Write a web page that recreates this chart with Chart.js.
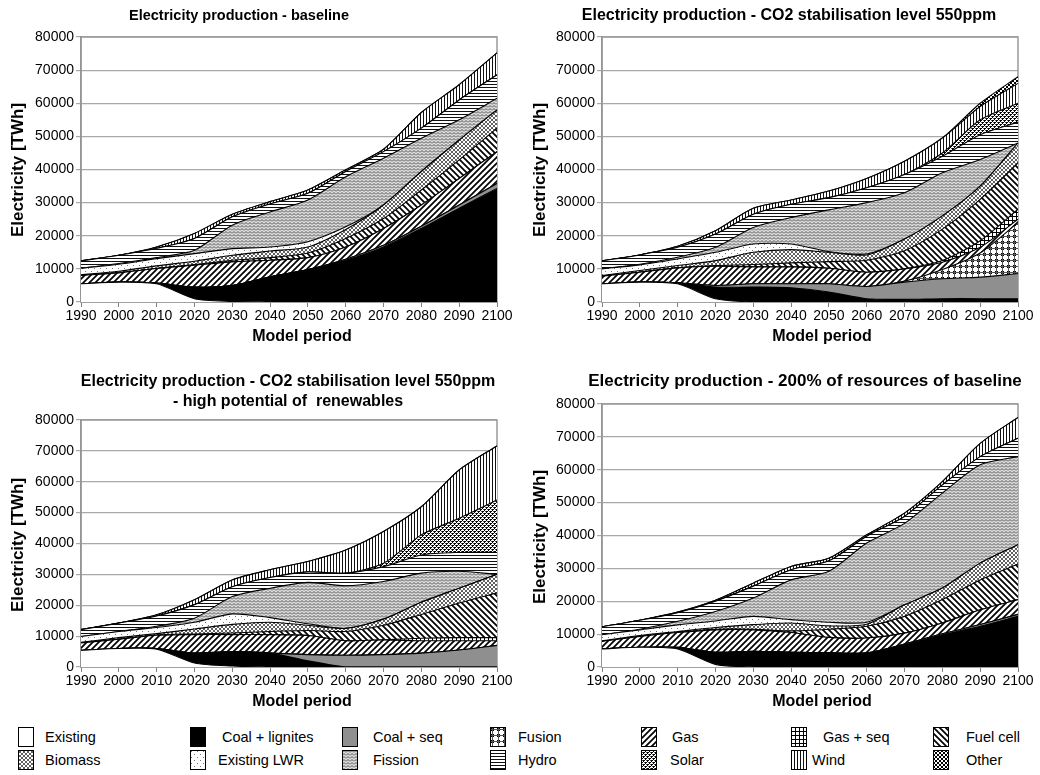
<!DOCTYPE html>
<html><head><meta charset="utf-8">
<script src="https://cdn.jsdelivr.net/npm/chart.js@4/dist/chart.umd.min.js"></script>
<style>
body{margin:0;background:#fff;width:1040px;height:775px;position:relative;overflow:hidden;font-family:"Liberation Sans",Arial,sans-serif;color:#000;}
canvas.ch{position:absolute;}
.t{position:absolute;font-weight:bold;white-space:pre;transform:translate(-50%,-50%);font-size:16px;}
.xt{position:absolute;font-weight:bold;white-space:nowrap;transform:translate(-50%,-50%);font-size:16px;}
.yt{position:absolute;font-weight:bold;white-space:nowrap;transform:translate(-50%,-50%) rotate(-90deg);font-size:17px;}
.lgs{position:absolute;}
.lgt{position:absolute;font-size:14.5px;transform:translateY(-50%);white-space:nowrap;}
</style></head><body>
<canvas class="ch" id="c1" width="520" height="330" style="left:0;top:0"></canvas>
<canvas class="ch" id="c2" width="520" height="330" style="left:520px;top:0"></canvas>
<canvas class="ch" id="c3" width="520" height="350" style="left:0;top:345px"></canvas>
<canvas class="ch" id="c4" width="520" height="350" style="left:520px;top:345px"></canvas>

<div class="t" style="left:239px;top:15px;font-size:14.5px">Electricity production - baseline</div>
<div class="t" style="left:789px;top:15px">Electricity production - CO2 stabilisation level 550ppm</div>
<div class="t" style="left:288px;top:381px">Electricity production - CO2 stabilisation level 550ppm</div>
<div class="t" style="left:288px;top:401px">- high potential of  renewables</div>
<div class="t" style="left:805px;top:381px;font-size:17px">Electricity production - 200% of resources of baseline</div>

<div class="yt" style="left:18px;top:170px">Electricity [TWh]</div>
<div class="yt" style="left:540px;top:170px">Electricity [TWh]</div>
<div class="yt" style="left:18px;top:545px">Electricity [TWh]</div>
<div class="yt" style="left:540px;top:537px">Electricity [TWh]</div>

<div class="xt" style="left:302px;top:336px">Model period</div>
<div class="xt" style="left:822px;top:336px">Model period</div>
<div class="xt" style="left:302px;top:701px">Model period</div>
<div class="xt" style="left:822px;top:701px">Model period</div>

<div id="legend"></div>

<script>
// ---------- DATA (TWh) ----------
const years = ['1990','2000','2010','2020','2030','2040','2050','2060','2070','2080','2090','2100'];
const seriesNames = ['Existing','Coal + lignites','Coal + seq','Fusion','Gas','Gas + seq','Fuel cell','Biomass','Existing LWR','Fission','Hydro','Solar','Wind','Other'];

// Chart 1: baseline
const baseExisting = [5500,6000,5500,1000,200,0,0,0,0,0,0,0];
const baseCoal     = [0,0,200,3500,4800,7600,9800,12600,16600,22200,28300,34300];
const baseCoalSeq  = [0,0,0,0,0,0,0,300,500,700,1000,1500];
const baseFusion   = [0,0,0,0,0,0,0,0,0,0,0,0];
const baseGas      = [2500,2800,4400,6600,7100,5000,3600,3700,5100,6400,8000,9600];
const baseGasSeq   = [0,0,0,0,0,0,0,0,0,0,0,0];
const baseFuelCell = [0,0,0,200,500,800,1400,2600,3000,4500,5600,7100];
const baseBiomass  = [200,500,800,1000,1500,2000,1800,2700,4100,5600,6000,5500];
const baseLwr      = [2000,2100,2200,2300,2000,1200,1600,800,0,0,0,0];
const baseFission  = [0,200,300,1000,7100,10600,12600,15100,14100,10000,6100,3500];
const baseHydro    = [2200,2500,2800,3600,2500,2400,2000,1600,2000,3100,6000,7100];
const baseSolar    = [0,0,0,0,0,0,0,0,0,0,0,0];
const baseWind     = [0,0,400,1500,800,700,1000,500,700,4700,4600,6600];
const baseOther    = [0,0,0,0,0,0,0,0,0,0,0,0];

// Chart 2: CO2 stabilisation 550ppm
const stabExisting = [5500,6000,5500,1000,0,0,0,0,0,0,0,0];
const stabCoal     = [0,0,300,3500,4500,4300,3000,1000,800,1000,1000,1000];
const stabCoalSeq  = [0,0,0,500,1000,1200,2500,3700,5200,6000,6500,7600];
const stabFusion   = [0,0,0,0,0,0,0,0,300,2800,7300,15400];
const stabGas      = [2300,3000,4500,5800,5100,5100,4700,4300,3700,2200,1700,1000];
const stabGasSeq   = [0,0,0,0,0,0,0,0,0,500,2000,3000];
const stabFuelCell = [0,0,0,200,700,1200,2000,3600,5500,9500,12500,14000];
const stabBiomass  = [200,500,700,1500,3700,4000,2800,1600,3500,4000,4000,6000];
const stabLwr      = [2000,1700,2000,2500,2500,1700,200,300,0,0,0,0];
const stabFission  = [0,200,500,1500,5000,8000,12600,15500,14000,13000,8000,0];
const stabHydro    = [2400,2800,3000,4000,4000,4000,3700,4500,5500,5000,7500,6300];
const stabSolar    = [0,0,0,0,0,0,0,0,0,1000,4500,5700];
const stabWind     = [0,0,300,1000,1800,1300,2000,2800,4000,4500,4000,6000];
const stabOther    = [0,0,0,0,0,0,0,0,0,0,1000,2000];

// Chart 3: CO2 550ppm - high potential of renewables
const renExisting = [5400,6000,5800,1300,300,0,0,0,0,0,0,0];
const renCoal     = [0,0,200,3200,4700,4500,2000,0,0,0,0,0];
const renCoalSeq  = [0,0,0,0,0,0,2000,3800,4000,4500,5500,7000];
const renFusion   = [0,0,0,0,0,0,0,0,0,0,0,0];
const renGas      = [2400,3000,4300,6000,5500,6000,6200,4700,4800,4000,3000,1500];
const renGasSeq   = [0,0,0,0,0,0,0,0,0,800,1000,1000];
const renFuelCell = [0,0,0,200,500,1000,1600,3000,4700,7700,11200,14500];
const renBiomass  = [200,500,500,1600,2800,3000,1700,1000,2000,4000,4800,6000];
const renLwr      = [1900,2000,2000,2200,3400,1500,500,0,0,0,0,0];
const renFission  = [0,0,400,1300,5600,9500,13400,13800,12200,9400,5500,0];
const renHydro    = [2200,2700,3300,4400,3200,3500,3400,4100,4800,5900,6100,7100];
const renSolar    = [0,0,0,0,0,0,0,0,1100,6500,11100,17000];
const renWind     = [0,0,400,1600,2200,2500,3400,7500,10300,9100,15600,17500];
const renOther    = [0,0,0,0,0,0,0,0,0,0,0,0];

// Chart 4: 200% of resources of baseline
const resExisting = [5500,6000,5500,800,0,0,0,0,0,0,0,0];
const resCoal     = [0,0,500,3700,4800,4500,4300,4300,6800,9800,12400,15400];
const resCoalSeq  = [0,0,0,0,0,0,0,0,200,300,500,600];
const resFusion   = [0,0,0,0,0,0,0,0,0,0,0,0];
const resGas      = [2300,3300,4500,6800,6500,6000,4700,4500,3300,3300,4500,4500];
const resGasSeq   = [0,0,0,0,0,0,0,0,0,0,0,0];
const resFuelCell = [0,0,0,200,200,500,2500,3600,5100,7100,9100,10800];
const resBiomass  = [200,300,300,500,1400,2400,1000,600,3500,3500,5100,5900];
const resLwr      = [1800,1700,2000,2000,2500,1000,1100,600,0,0,0,0];
const resFission  = [0,200,1100,2900,5600,12100,15500,24100,24800,28900,29900,26800];
const resHydro    = [2400,2700,2600,3100,3600,3100,3200,2100,2100,2500,2500,5600];
const resSolar    = [0,0,0,0,0,0,0,0,0,0,0,0];
const resWind     = [0,0,200,300,900,1000,800,400,1000,1000,4000,6300];
const resOther    = [0,0,0,0,0,0,0,0,0,0,0,0];

const yMax = 80000;
const yStep = 10000;

// ---------- PATTERNS ----------
function tile(w,h,draw,bg){const c=document.createElement('canvas');c.width=w;c.height=h;const g=c.getContext('2d');g.fillStyle=bg||'#fff';g.fillRect(0,0,w,h);draw(g);return c;}
const tiles = {
  fusion: tile(6,6,g=>{g.fillStyle='#000';g.fillRect(1,1,3,3);g.fillStyle='#555';g.fillRect(0,2,6,1);g.fillRect(2,0,1,6);}),
  gas: tile(6,6,g=>{g.strokeStyle='#000';g.lineWidth=1.7;g.beginPath();g.moveTo(-1,7);g.lineTo(7,-1);g.moveTo(-4,4);g.lineTo(4,-4);g.moveTo(2,10);g.lineTo(10,2);g.stroke();}),
  gasSeq: tile(4,4,g=>{g.fillStyle='#000';g.fillRect(0,0,4,1);g.fillRect(0,0,1,4);}),
  fuel: tile(6,6,g=>{g.strokeStyle='#000';g.lineWidth=1.7;g.beginPath();g.moveTo(-1,-1);g.lineTo(7,7);g.moveTo(-4,2);g.lineTo(4,10);g.moveTo(2,-4);g.lineTo(10,4);g.stroke();}),
  biomass: tile(4,4,g=>{g.strokeStyle='#444';g.lineWidth=0.85;g.beginPath();g.moveTo(0,0);g.lineTo(4,4);g.moveTo(4,0);g.lineTo(0,4);g.stroke();}),
  lwr: tile(6,6,g=>{g.fillStyle='#777';g.fillRect(1,1,1,1);g.fillRect(4,4,1,1);}),
  fission: tile(4,3,g=>{g.strokeStyle='#505050';g.lineWidth=1;g.beginPath();g.moveTo(0,2.5);g.lineTo(2,0.5);g.lineTo(4,2.5);g.stroke();},'#dcdcdc'),
  hydro: tile(4,3,g=>{g.fillStyle='#111';g.fillRect(0,0,4,1);}),
  solar: tile(4,4,g=>{g.fillStyle='#000';g.fillRect(0,0,2,1);g.fillRect(0,1,1,1);g.fillRect(2,2,2,1);g.fillRect(2,3,1,1);g.fillStyle='#555';g.fillRect(3,0,1,1);g.fillRect(1,2,1,1);}),
  wind: tile(3,4,g=>{g.fillStyle='#111';g.fillRect(0,0,1,4);}),
  other: tile(4,4,g=>{g.fillStyle='#000';g.fillRect(0,0,2,2);g.fillRect(2,2,2,2);})
};
const fillKeys = ['#ffffff','#000000','#8f8f8f','fusion','gas','gasSeq','fuel','biomass','lwr','fission','hydro','solar','wind','other'];
function fillFor(ctx,key){ return key.startsWith('#') ? key : ctx.createPattern(tiles[key],'repeat'); }

// ---------- CHARTS ----------
const framePlugin = {
  id:'frame',
  beforeDatasetsDraw(chart){
    const a=chart.chartArea, c=chart.ctx;
    c.save(); c.strokeStyle='#9a9a9a'; c.lineWidth=1.5;
    c.strokeRect(a.left,a.top,a.right-a.left,a.bottom-a.top); c.restore();
  }
};

function makeChart(id, series, box){
  const cv=document.getElementById(id), ctx=cv.getContext('2d');
  const datasets = series.map((vals,i)=>({
    label: seriesNames[i], data: vals,
    backgroundColor: fillFor(ctx, fillKeys[i]),
    borderColor:'#000', borderWidth:1.1,
    fill: i===0 ? 'origin' : '-1',
    pointRadius:0, pointHoverRadius:0, pointHitRadius:0, tension:0.25
  }));
  const font={family:'"Liberation Sans", Arial, sans-serif', size:14};
  return new Chart(cv,{
    type:'line',
    data:{labels:years, datasets},
    options:{
      responsive:false, animation:false, devicePixelRatio:1,
      events:[],
      layout:{padding:{top:box.top,right:cv.width-box.right,bottom:cv.height-box.bottom-24,left:0}},
      plugins:{legend:{display:false},tooltip:{enabled:false},title:{display:false}},
      scales:{
        x:{
          grid:{drawOnChartArea:false,drawTicks:true,tickLength:5,color:'#808080'},
          border:{color:'#808080',width:1.5},
          ticks:{color:'#000',font,maxRotation:0,autoSkip:false,padding:1},
          afterFit:s=>{s.height=24;}
        },
        y:{
          stacked:true, min:0, max:yMax,
          grid:{color:'#a8a8a8',tickLength:5,lineWidth:1.2},
          border:{color:'#808080',width:1.5},
          ticks:{stepSize:yStep,color:'#000',font,padding:2,callback:v=>String(v)},
          afterFit:s=>{s.width=box.left;}
        }
      }
    },
    plugins:[framePlugin]
  });
}

makeChart('c1',[baseExisting,baseCoal,baseCoalSeq,baseFusion,baseGas,baseGasSeq,baseFuelCell,baseBiomass,baseLwr,baseFission,baseHydro,baseSolar,baseWind,baseOther],{left:81,right:497,top:37,bottom:302});
makeChart('c2',[stabExisting,stabCoal,stabCoalSeq,stabFusion,stabGas,stabGasSeq,stabFuelCell,stabBiomass,stabLwr,stabFission,stabHydro,stabSolar,stabWind,stabOther],{left:82,right:498,top:37,bottom:302});
makeChart('c3',[renExisting,renCoal,renCoalSeq,renFusion,renGas,renGasSeq,renFuelCell,renBiomass,renLwr,renFission,renHydro,renSolar,renWind,renOther],{left:81,right:497,top:75,bottom:322});
makeChart('c4',[resExisting,resCoal,resCoalSeq,resFusion,resGas,resGasSeq,resFuelCell,resBiomass,resLwr,resFission,resHydro,resSolar,resWind,resOther],{left:82,right:498,top:59,bottom:322});

// ---------- LEGEND ----------
const legendCols = [18,190,342,490,641,791,933];
const legendText = [[45,222,373,518,672,823,966],[45,218,373,518,670,812,966]];
const legendRows = [727,750];
const legendOrder = [[0,1,2,3,4,5,6],[7,8,9,10,11,12,13]];
const lg=document.getElementById('legend');
legendOrder.forEach((row,r)=>row.forEach((si,c)=>{
  const sw=document.createElement('canvas'); sw.width=16; sw.height=20; sw.className='lgs';
  sw.style.left=legendCols[c]+'px'; sw.style.top=legendRows[r]+'px';
  const g=sw.getContext('2d'); g.fillStyle=fillFor(g,fillKeys[si]); g.fillRect(0,0,16,20);
  g.strokeStyle='#000'; g.lineWidth=1; g.strokeRect(0.5,0.5,15,19);
  lg.appendChild(sw);
  const t=document.createElement('div'); t.className='lgt'; t.textContent=seriesNames[si];
  t.style.left=legendText[r][c]+'px'; t.style.top=(legendRows[r]+10)+'px';
  lg.appendChild(t);
}));
</script>
</body></html>
